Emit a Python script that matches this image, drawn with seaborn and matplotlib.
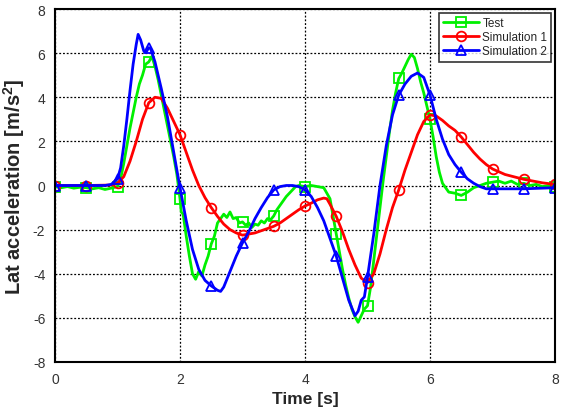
import numpy as np
import pandas as pd
import matplotlib
matplotlib.use("Agg")
import matplotlib.pyplot as plt
import seaborn as sns

# ---- data ----
t_test = [0.0, 0.1, 0.2, 0.3, 0.4, 0.5, 0.6, 0.7, 0.8, 0.9, 1.0, 1.05, 1.1, 1.15, 1.2, 1.25,
          1.3, 1.35, 1.4, 1.45, 1.5, 1.55, 1.6, 1.65, 1.7, 1.75, 1.8, 1.85, 1.9, 1.95, 2.0,
          2.02, 2.05, 2.1, 2.15, 2.2, 2.25, 2.3, 2.35, 2.4, 2.45, 2.5, 2.55, 2.6, 2.65, 2.7,
          2.75, 2.8, 2.85, 2.9, 2.95, 3.0, 3.05, 3.1, 3.15, 3.2, 3.25, 3.3, 3.35, 3.4, 3.45,
          3.5, 3.55, 3.6, 3.65, 3.7, 3.75, 3.8, 3.85, 3.9, 4.0, 4.1, 4.2, 4.3, 4.4, 4.45, 4.5,
          4.55, 4.6, 4.65, 4.7, 4.75, 4.8, 4.85, 4.9, 4.95, 5.0, 5.05, 5.1, 5.15, 5.2, 5.25,
          5.3, 5.35, 5.4, 5.45, 5.5, 5.55, 5.6, 5.65, 5.7, 5.75, 5.8, 5.85, 5.9, 5.95, 6.0,
          6.05, 6.1, 6.15, 6.2, 6.3, 6.4, 6.5, 6.6, 6.7, 6.8, 6.9, 7.0, 7.1, 7.2, 7.3, 7.4,
          7.5, 7.6, 7.7, 7.8, 7.9, 8.0]
v_test = [-0.05, -0.1, -0.05, -0.12, -0.08, -0.1, -0.15, -0.1, -0.18, -0.12, -0.05, 0.3, 1.0,
          1.8, 2.6, 3.3, 4.0, 4.6, 5.0, 5.5, 5.6, 5.85, 5.4, 4.8, 4.1, 3.4, 2.7, 2.0, 1.3, 0.5,
          -0.6, -1.2, -1.3, -2.3, -3.2, -4.0, -4.25, -3.9, -4.1, -3.6, -3.2, -2.65, -2.3, -1.7,
          -1.5, -1.3, -1.45, -1.2, -1.5, -1.45, -1.7, -1.65, -1.8, -1.7, -1.9, -1.75, -1.8,
          -1.6, -1.7, -1.5, -1.55, -1.38, -1.1, -0.9, -0.7, -0.5, -0.35, -0.2, -0.05, 0.0,
          -0.05, 0.0, -0.05, -0.1, -0.6, -1.4, -2.2, -3.0, -3.8, -4.5, -5.1, -5.6, -5.95, -6.2,
          -5.9, -5.6, -5.45, -4.6, -3.4, -2.2, -1.0, 0.2, 1.3, 2.4, 3.4, 4.2, 4.85, 5.1, 5.4,
          5.7, 5.95, 5.8, 5.3, 4.7, 4.2, 3.6, 3.0, 2.2, 1.3, 0.6, 0.1, -0.3, -0.35, -0.45,
          -0.3, -0.1, 0.0, 0.1, 0.15, 0.2, 0.1, 0.2, 0.05, 0.1, 0.0, 0.05, -0.05, 0.0, -0.05]

t_sim1 = [0.0, 0.5, 0.9, 1.0, 1.1, 1.2, 1.3, 1.4, 1.5, 1.6, 1.7, 1.8, 1.9, 2.0, 2.1, 2.2, 2.3,
          2.4, 2.5, 2.6, 2.7, 2.8, 2.9, 3.0, 3.1, 3.2, 3.3, 3.4, 3.5, 3.6, 3.7, 3.8, 3.9, 4.0,
          4.1, 4.2, 4.3, 4.35, 4.4, 4.5, 4.6, 4.7, 4.8, 4.9, 5.0, 5.1, 5.2, 5.3, 5.4, 5.5, 5.6,
          5.7, 5.8, 5.9, 6.0, 6.1, 6.2, 6.3, 6.4, 6.5, 6.6, 6.7, 6.8, 6.9, 7.0, 7.2, 7.5, 7.8,
          8.0]
v_sim1 = [0.0, 0.0, 0.02, 0.1, 0.4, 1.1, 2.0, 3.0, 3.75, 4.0, 3.95, 3.5, 2.9, 2.3, 1.5, 0.7,
          0.0, -0.55, -1.0, -1.4, -1.75, -2.0, -2.15, -2.25, -2.2, -2.15, -2.05, -1.95, -1.85,
          -1.7, -1.5, -1.3, -1.1, -0.93, -0.8, -0.65, -0.57, -0.6, -0.85, -1.4, -2.1, -2.9,
          -3.6, -4.2, -4.4, -4.0, -3.1, -2.0, -1.0, -0.2, 0.7, 1.5, 2.3, 2.9, 3.2, 3.15, 2.95,
          2.7, 2.5, 2.2, 1.85, 1.5, 1.2, 0.95, 0.75, 0.5, 0.28, 0.12, 0.05]

t_sim2 = [0.0, 0.5, 0.8, 0.9, 1.0, 1.05, 1.1, 1.15, 1.2, 1.25, 1.3, 1.33, 1.37, 1.42, 1.46,
          1.5, 1.53, 1.6, 1.7, 1.8, 1.9, 2.0, 2.1, 2.2, 2.3, 2.4, 2.5, 2.6, 2.65, 2.7, 2.8,
          2.9, 3.0, 3.1, 3.2, 3.3, 3.4, 3.5, 3.6, 3.7, 3.8, 3.9, 4.0, 4.1, 4.2, 4.3, 4.4, 4.5,
          4.6, 4.7, 4.8, 4.85, 4.9, 4.95, 5.0, 5.1, 5.2, 5.3, 5.4, 5.5, 5.6, 5.7, 5.8, 5.9,
          6.0, 6.1, 6.2, 6.3, 6.4, 6.5, 6.6, 6.7, 6.8, 6.9, 7.0, 7.5, 8.0]
v_sim2 = [0.0, 0.0, 0.0, 0.05, 0.3, 0.8, 1.8, 3.0, 4.3, 5.5, 6.4, 6.85, 6.6, 6.1, 6.05, 6.25,
          6.2, 5.6, 4.4, 3.1, 1.5, -0.1, -1.6, -2.9, -3.8, -4.3, -4.55, -4.75, -4.8, -4.6,
          -3.9, -3.2, -2.6, -2.1, -1.5, -1.0, -0.55, -0.2, -0.05, 0.0, 0.0, -0.05, -0.2, -0.5,
          -1.0, -1.6, -2.4, -3.2, -4.2, -5.2, -5.9, -5.7, -5.2, -5.05, -4.15, -2.2, 0.0, 1.8,
          3.2, 4.1, 4.6, 4.95, 5.1, 4.9, 4.1, 3.0, 2.1, 1.4, 0.95, 0.6, 0.3, 0.1, -0.05,
          -0.15, -0.15, -0.15, -0.1]

series_names = ["Test", "Simulation 1", "Simulation 2"]
x_ticks = [0, 2, 4, 6, 8]
y_ticks = [-8, -6, -4, -2, 0, 2, 4, 6, 8]

# ---- styling ----
sns.set_theme(style="white")
plt.rcParams["font.family"] = ["Liberation Sans", "DejaVu Sans"]
plt.rcParams["mathtext.fontset"] = "custom"
plt.rcParams["mathtext.rm"] = "Liberation Sans"
plt.rcParams["mathtext.bf"] = "Liberation Sans:bold"
plt.rcParams["axes.unicode_minus"] = False

fig = plt.figure(figsize=(5.65, 4.1), dpi=100)
ax = fig.add_axes([55 / 565, 47 / 410, 500 / 565, 353 / 410])

styles = [
    (t_test, v_test, "#00f000", "s"),
    (t_sim1, v_sim1, "#ff0000", "o"),
    (t_sim2, v_sim2, "#0000ff", "^"),
]
for (tt, vv, col, mk), name in zip(styles, series_names):
    df = pd.DataFrame({"t": tt, "v": vv})
    me = [i for i, x in enumerate(tt) if abs(x * 2 - round(x * 2)) < 1e-9]
    sns.lineplot(data=df, x="t", y="v", ax=ax, color=col, lw=2, marker=mk,
                 markevery=me, ms=7, fillstyle="none", mec=col, mew=1.3,
                 label=name, estimator=None, sort=False)

ax.set_xlim(0, 8)
ax.set_ylim(-8, 8)
ax.set_xticks(x_ticks)
ax.set_yticks(y_ticks)
ax.set_xticks([1, 3, 5, 7], minor=True)
ax.set_yticks([-7, -5, -3, -1, 1, 3, 5, 7], minor=True)
ax.tick_params(which="both", direction="in", top=False, right=False, colors="black",
               labelcolor="#333333", labelsize=10)
ax.tick_params(which="major", length=5, width=1.2, pad=7)
ax.tick_params(which="minor", length=3, width=1)
ax.grid(True, which="major", color="black", linestyle=(0, (1.5, 1.5)), linewidth=0.9)
for s in ax.spines.values():
    s.set_color("black")
    s.set_linewidth(1.5)

ax.set_xlabel("Time [s]", fontsize=12.5, fontweight="bold", labelpad=4)
ax.set_ylabel(r"Lat acceleration [m/s$^\mathbf{2}$]", fontsize=14.5, fontweight="bold", labelpad=4)

leg = ax.legend(loc="upper right", fontsize=8.5, frameon=True, fancybox=False,
                edgecolor="black", borderpad=0.35, labelspacing=0.2, handlelength=3,
                handletextpad=0.3, borderaxespad=0.3)
leg.get_frame().set_linewidth(1.2)

fig.savefig("out.png", dpi=100)
